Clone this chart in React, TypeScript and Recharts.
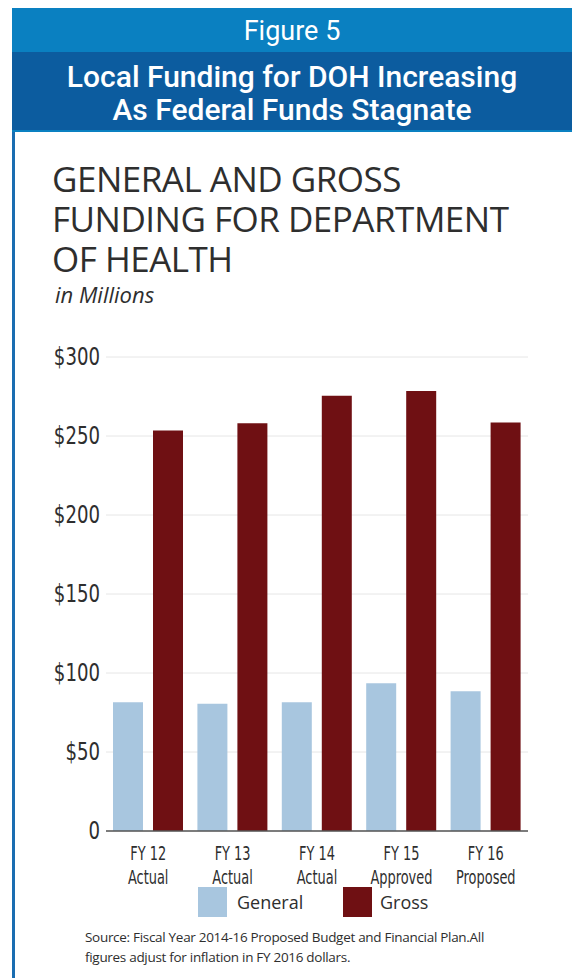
import { Bar, BarChart, CartesianGrid, XAxis, YAxis } from "recharts";

// Figure 5 — General vs Gross funding for DOH, in millions (FY 2016 dollars)
const CATEGORIES = ["FY 12", "FY 13", "FY 14", "FY 15", "FY 16"];
const SUBLABELS = ["Actual", "Actual", "Actual", "Approved", "Proposed"];
const GENERAL = [81.5, 80.5, 81.5, 93.5, 88.5];
const GROSS = [253.5, 258, 275.5, 278.5, 258.5];
const Y_TICKS = [0, 50, 100, 150, 200, 250, 300];

const COLOR = {
  general: "#a8c6df",
  gross: "#6f1013",
  headLight: "#0a80c1",
  headDark: "#0c5c9f",
  text: "#2e2e2e",
};

const NARROW = "'DejaVu Sans Condensed', 'DejaVu Sans', sans-serif";
const SANS = "'Open Sans', 'Noto Sans', sans-serif";

const data = CATEGORIES.map((name, i) => ({
  name,
  sub: SUBLABELS[i],
  general: GENERAL[i],
  gross: GROSS[i],
}));

// squeezed two-line category label (the original uses a condensed face)
function CategoryTick({ x, y, payload, index }: any) {
  return (
    <g transform={`translate(${x},${y}) scale(0.72,1)`}>
      <text textAnchor="middle" fill={COLOR.text} fontFamily={NARROW} fontSize={20}>
        <tspan x={0} dy={21}>
          {payload.value}
        </tspan>
        <tspan x={0} dy={24}>
          {SUBLABELS[index]}
        </tspan>
      </text>
    </g>
  );
}

function ValueTick({ x, y, payload }: any) {
  const v = payload.value;
  return (
    <g transform={`translate(${x},${y}) scale(0.84,1)`}>
      <text
        textAnchor="end"
        dy={8}
        fill={COLOR.text}
        fontFamily={NARROW}
        fontSize={24}
      >
        {v === 0 ? "0" : `$${v}`}
      </text>
    </g>
  );
}

export default function App() {
  return (
    <div
      style={{
        position: "absolute",
        left: 0,
        top: 0,
        width: 572,
        height: 978,
        background: "#ffffff",
        overflow: "hidden",
      }}
    >
      {/* header bands */}
      <div
        style={{
          position: "absolute",
          left: 12,
          top: 8,
          width: 560,
          height: 44,
          background: COLOR.headLight,
          color: "#fff",
          fontFamily: "Roboto, sans-serif",
          fontSize: 27,
          textAlign: "center",
          lineHeight: "46px",
        }}
      >
        Figure 5
      </div>
      <div
        style={{
          position: "absolute",
          left: 12,
          top: 52,
          width: 560,
          height: 80,
          background: COLOR.headDark,
          borderBottom: `2px solid ${COLOR.headLight}`,
          color: "#fff",
          fontFamily: "Roboto, sans-serif",
          fontWeight: 500,
          fontSize: 30,
          lineHeight: "33px",
          textAlign: "center",
          paddingTop: 8,
          boxSizing: "border-box",
        }}
      >
        Local Funding for DOH Increasing
        <br />
        As Federal Funds Stagnate
      </div>
      {/* left rule */}
      <div
        style={{
          position: "absolute",
          left: 12,
          top: 132,
          width: 3,
          height: 846,
          background: "#1a6db1",
        }}
      />

      {/* chart title */}
      <div
        style={{
          position: "absolute",
          left: 52,
          top: 159,
          fontFamily: SANS,
          fontSize: 35,
          lineHeight: "40px",
          color: COLOR.text,
          letterSpacing: -0.5,
        }}
      >
        GENERAL AND GROSS
        <br />
        FUNDING FOR DEPARTMENT
        <br />
        OF HEALTH
      </div>
      <div
        style={{
          position: "absolute",
          left: 55,
          top: 279,
          fontFamily: SANS,
          fontStyle: "italic",
          fontSize: 22,
          color: COLOR.text,
        }}
      >
        in Millions
      </div>

      <div style={{ position: "absolute", left: 0, top: 330 }}>
        <BarChart
          width={572}
          height={560}
          data={data}
          margin={{ top: 27, right: 44, bottom: 9, left: 0 }}
          barSize={30}
          barGap={10}
        >
          <CartesianGrid vertical={false} stroke="#e6e6e6" strokeWidth={1} />
          <XAxis
            dataKey="name"
            tickLine={false}
            axisLine={{ stroke: "#555555", strokeWidth: 1.5 }}
            tick={<CategoryTick />}
            interval={0}
            height={50}
          />
          <YAxis
            type="number"
            domain={[0, 300]}
            ticks={Y_TICKS}
            tickLine={false}
            axisLine={false}
            tickMargin={0}
            width={106}
            tick={<ValueTick />}
          />
          <Bar dataKey="general" fill={COLOR.general} isAnimationActive={false} />
          <Bar dataKey="gross" fill={COLOR.gross} isAnimationActive={false} />
        </BarChart>
      </div>

      {/* legend */}
      <div
        style={{
          position: "absolute",
          left: 198,
          top: 887,
          display: "flex",
          alignItems: "center",
          fontFamily: SANS,
          fontSize: 18,
          color: COLOR.text,
        }}
      >
        <span style={{ width: 29, height: 30, background: COLOR.general, display: "inline-block" }} />
        <span style={{ marginLeft: 10, width: 106 }}>General</span>
        <span style={{ width: 29, height: 30, background: COLOR.gross, display: "inline-block" }} />
        <span style={{ marginLeft: 8 }}>Gross</span>
      </div>

      {/* source */}
      <div
        style={{
          position: "absolute",
          left: 85,
          top: 927,
          fontFamily: SANS,
          fontSize: 13.5,
          lineHeight: "20px",
          color: COLOR.text,
          letterSpacing: -0.3,
        }}
      >
        Source: Fiscal Year 2014-16 Proposed Budget and Financial Plan.All
        <br />
        figures adjust for inflation in FY 2016 dollars.
      </div>
    </div>
  );
}
